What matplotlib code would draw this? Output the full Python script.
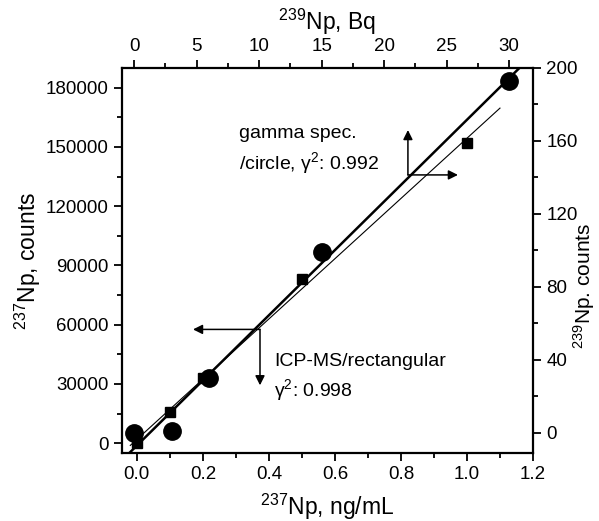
import numpy as np
import matplotlib
matplotlib.use("Agg")
import matplotlib.pyplot as plt
from matplotlib.ticker import MultipleLocator

plt.rcParams['font.family'] = ['Liberation Sans', 'DejaVu Sans']
plt.rcParams['mathtext.fontset'] = 'custom'
plt.rcParams['mathtext.rm'] = 'Liberation Sans'
plt.rcParams['mathtext.it'] = 'Liberation Sans:italic'

# ICP-MS data (bottom / left axes)
icp_conc = [0.0, 0.1, 0.2, 0.5, 1.0]          # 237Np, ng/mL
icp_counts = [0, 16000, 33000, 83000, 152000]  # 237Np, counts

# gamma spectrometry data (top / right axes)
gam_bq = [0.0, 3.0, 6.0, 15.0, 30.0]          # 239Np, Bq
gam_counts = [0, 1, 30, 99, 193]              # 239Np counts

icp_r2 = "0.998"
gam_r2 = "0.992"

fig = plt.figure(figsize=(5.99, 5.21), dpi=100)
pos = [0.2037, 0.1305, 0.6861, 0.739]
ax = fig.add_axes(pos)
ax2 = fig.add_axes(pos, label="top_right", frameon=False)

tick_fs = 13.5
lab_fs = 16.5

# bottom / left
ax.set_xlim(-0.045, 1.2)
ax.set_ylim(-5000, 190000)
ax.xaxis.set_major_locator(MultipleLocator(0.2))
ax.xaxis.set_minor_locator(MultipleLocator(0.1))
ax.yaxis.set_major_locator(MultipleLocator(30000))
ax.yaxis.set_minor_locator(MultipleLocator(15000))
ax.xaxis.set_major_formatter(matplotlib.ticker.FormatStrFormatter('%.1f'))
ax.tick_params(which='both', direction='out', labelsize=tick_fs, width=1.3, top=False, right=False)
ax.tick_params(which='major', length=6)
ax.tick_params(which='minor', length=3.5)
for s in ax.spines.values():
    s.set_linewidth(1.6)
ax.set_xlabel("$^{237}$Np, ng/mL", fontsize=lab_fs, labelpad=6)
ax.set_ylabel("$^{237}$Np, counts", fontsize=lab_fs, labelpad=2)

# top / right
ax2.patch.set_visible(False)
ax2.xaxis.tick_top()
ax2.xaxis.set_label_position('top')
ax2.yaxis.tick_right()
ax2.yaxis.set_label_position('right')
ax2.set_xlim(-0.96, 31.9)
ax2.set_ylim(-11, 200)
ax2.xaxis.set_major_locator(MultipleLocator(5))
ax2.xaxis.set_minor_locator(MultipleLocator(2.5))
ax2.yaxis.set_major_locator(MultipleLocator(40))
ax2.yaxis.set_minor_locator(MultipleLocator(20))
ax2.tick_params(which='both', direction='out', labelsize=tick_fs, width=1.3)
ax2.tick_params(which='major', length=6)
ax2.tick_params(which='minor', length=3.5)
ax2.set_xlabel("$^{239}$Np, Bq", fontsize=lab_fs, labelpad=6)
ax2.set_ylabel("$^{239}$Np. counts", fontsize=15)
ax2.yaxis.set_label_coords(1.093, 0.435)

# fits
p_icp = np.polyfit(icp_conc, icp_counts, 1)
xf = np.array([-0.02, 1.1])
ax.plot(xf, np.polyval(p_icp, xf), color='black', lw=0.8, zorder=2)
ax.plot(icp_conc, icp_counts, 's', color='black', ms=7.5, zorder=3)

p_g = np.polyfit(gam_bq, gam_counts, 1)
xg = np.array([-2.0, 33.0])
ax2.plot(xg, np.polyval(p_g, xg), color='black', lw=1.8, zorder=2)
ax2.plot(gam_bq, gam_counts, 'o', color='black', ms=12.5, zorder=3)

# annotations: gamma
ap = dict(arrowstyle='-|>', lw=1.1, color='black', mutation_scale=14, shrinkA=0, shrinkB=0)
ax2.annotate("", xy=(21.9, 166), xytext=(21.9, 141.4), arrowprops=ap)
ax2.annotate("", xy=(25.9, 141.4), xytext=(21.9, 141.4), arrowprops=ap)
ax2.text(8.4, 164, "gamma spec.", fontsize=14, va='center', ha='left')
ax2.text(8.4, 148, "/circle, γ$^2$: " + gam_r2, fontsize=14, va='center', ha='left')

# annotations: ICP
ax.annotate("", xy=(0.17, 57600), xytext=(0.373, 57600), arrowprops=ap)
ax.annotate("", xy=(0.373, 29300), xytext=(0.373, 57600), arrowprops=ap)
ax.text(0.415, 41400, "ICP-MS/rectangular", fontsize=14, va='center', ha='left')
ax.text(0.415, 26800, "γ$^2$: " + icp_r2, fontsize=14, va='center', ha='left')

fig.savefig("out.png", dpi=100)
